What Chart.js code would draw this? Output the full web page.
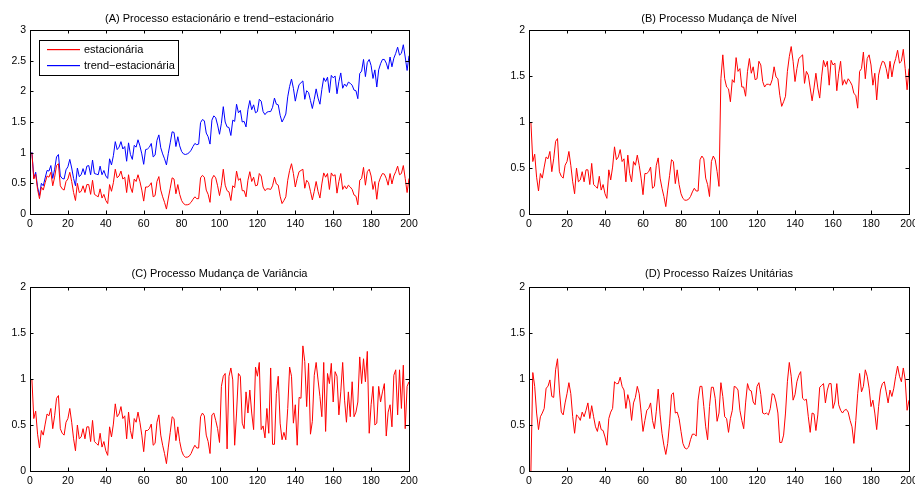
<!DOCTYPE html>
<html>
<head>
<meta charset="utf-8">
<script src="https://cdn.jsdelivr.net/npm/chart.js@4/dist/chart.umd.min.js"></script>
<style>
  body { margin: 0; background: #fff; }
  #fig { position: relative; width: 915px; height: 484px; overflow: hidden; }
  #fig canvas { position: absolute; }
</style>
</head>
<body>
<div id="fig">
  <canvas id="graf-a" width="458" height="242" style="left:0;top:0"></canvas>
  <canvas id="graf-b" width="457" height="242" style="left:458px;top:0"></canvas>
  <canvas id="graf-c" width="458" height="242" style="left:0;top:242px"></canvas>
  <canvas id="graf-d" width="457" height="242" style="left:458px;top:242px"></canvas>
</div>
<script>
// eixo do tempo: t = 1..200
const tempo = Array.from({ length: 200 }, (_, i) => i + 1);
const ticksX = [0, 20, 40, 60, 80, 100, 120, 140, 160, 180, 200];

// (A) serie estacionaria
const estacionaria = [
  1.00, 0.57, 0.65, 0.40, 0.25, 0.44, 0.39, 0.51, 0.62, 0.60,
  0.68, 0.46, 0.60, 0.79, 0.82, 0.46, 0.41, 0.39, 0.53, 0.57,
  0.68, 0.53, 0.35, 0.22, 0.50, 0.35, 0.37, 0.46, 0.35, 0.48,
  0.48, 0.32, 0.55, 0.32, 0.30, 0.28, 0.41, 0.26, 0.32, 0.22,
  0.17, 0.48, 0.37, 0.51, 0.73, 0.59, 0.62, 0.70, 0.57, 0.60,
  0.35, 0.64, 0.44, 0.35, 0.57, 0.53, 0.64, 0.53, 0.39, 0.21,
  0.44, 0.44, 0.46, 0.51, 0.28, 0.30, 0.53, 0.61, 0.39, 0.28,
  0.19, 0.08, 0.26, 0.42, 0.59, 0.57, 0.33, 0.48, 0.32, 0.22,
  0.17, 0.15, 0.15, 0.16, 0.19, 0.24, 0.28, 0.25, 0.25, 0.59,
  0.63, 0.60, 0.39, 0.32, 0.19, 0.57, 0.63, 0.59, 0.46, 0.30,
  0.47, 0.73, 0.47, 0.38, 0.36, 0.22, 0.46, 0.43, 0.70, 0.55,
  0.58, 0.38, 0.38, 0.28, 0.55, 0.69, 0.53, 0.60, 0.46, 0.47,
  0.66, 0.62, 0.44, 0.38, 0.41, 0.41, 0.40, 0.46, 0.60, 0.49,
  0.47, 0.29, 0.17, 0.22, 0.28, 0.55, 0.71, 0.82, 0.66, 0.44,
  0.58, 0.69, 0.71, 0.73, 0.42, 0.55, 0.51, 0.37, 0.23, 0.37,
  0.53, 0.37, 0.26, 0.49, 0.67, 0.60, 0.66, 0.40, 0.67, 0.62,
  0.64, 0.34, 0.53, 0.66, 0.40, 0.46, 0.41, 0.47, 0.44, 0.40,
  0.31, 0.29, 0.15, 0.55, 0.58, 0.76, 0.47, 0.69, 0.73, 0.62,
  0.40, 0.53, 0.24, 0.51, 0.60, 0.66, 0.65, 0.58, 0.47, 0.66,
  0.49, 0.62, 0.69, 0.78, 0.64, 0.66, 0.79, 0.58, 0.35, 0.58
];

// (A) serie trend-estacionaria
const trendEstacionaria = [
  1.01, 0.59, 0.68, 0.44, 0.30, 0.50, 0.46, 0.59, 0.71, 0.70,
  0.79, 0.58, 0.73, 0.93, 0.97, 0.62, 0.58, 0.57, 0.72, 0.77,
  0.89, 0.75, 0.58, 0.46, 0.75, 0.61, 0.64, 0.74, 0.64, 0.78,
  0.79, 0.64, 0.88, 0.66, 0.65, 0.64, 0.78, 0.64, 0.71, 0.62,
  0.58, 0.90, 0.80, 0.95, 1.18, 1.05, 1.09, 1.18, 1.06, 1.10,
  0.86, 1.16, 0.97, 0.89, 1.12, 1.09, 1.21, 1.11, 0.98, 0.81,
  1.05, 1.06, 1.09, 1.15, 0.93, 0.96, 1.20, 1.29, 1.08, 0.98,
  0.90, 0.80, 0.99, 1.16, 1.34, 1.33, 1.10, 1.26, 1.11, 1.02,
  0.98, 0.97, 0.98, 1.00, 1.04, 1.10, 1.15, 1.13, 1.14, 1.49,
  1.54, 1.52, 1.32, 1.26, 1.14, 1.53, 1.60, 1.57, 1.45, 1.30,
  1.48, 1.75, 1.50, 1.42, 1.41, 1.28, 1.53, 1.51, 1.79, 1.65,
  1.69, 1.50, 1.51, 1.42, 1.70, 1.85, 1.70, 1.78, 1.65, 1.67,
  1.87, 1.84, 1.67, 1.62, 1.66, 1.67, 1.67, 1.74, 1.89, 1.79,
  1.78, 1.61, 1.50, 1.56, 1.63, 1.91, 2.08, 2.20, 2.05, 1.84,
  1.99, 2.11, 2.14, 2.17, 1.87, 2.01, 1.98, 1.85, 1.72, 1.87,
  2.04, 1.89, 1.79, 2.03, 2.22, 2.16, 2.23, 1.98, 2.26, 2.22,
  2.25, 1.96, 2.16, 2.30, 2.05, 2.12, 2.08, 2.15, 2.13, 2.10,
  2.02, 2.01, 1.88, 2.29, 2.33, 2.52, 2.24, 2.47, 2.52, 2.42,
  2.21, 2.35, 2.07, 2.35, 2.45, 2.52, 2.52, 2.46, 2.36, 2.56,
  2.40, 2.54, 2.62, 2.72, 2.59, 2.62, 2.76, 2.56, 2.34, 2.58
];

// (B) segunda metade, t = 101..200, depois da mudanca de nivel
const nivelDepois = [
  1.47, 1.73, 1.47, 1.38, 1.36, 1.22, 1.46, 1.43, 1.70, 1.55,
  1.58, 1.38, 1.38, 1.28, 1.55, 1.69, 1.53, 1.60, 1.46, 1.47,
  1.66, 1.62, 1.44, 1.38, 1.41, 1.41, 1.40, 1.46, 1.60, 1.49,
  1.47, 1.29, 1.17, 1.22, 1.28, 1.55, 1.71, 1.82, 1.66, 1.44,
  1.58, 1.69, 1.71, 1.73, 1.42, 1.55, 1.51, 1.37, 1.23, 1.37,
  1.53, 1.37, 1.26, 1.49, 1.67, 1.60, 1.66, 1.40, 1.67, 1.62,
  1.64, 1.34, 1.53, 1.66, 1.40, 1.46, 1.41, 1.47, 1.44, 1.40,
  1.31, 1.29, 1.15, 1.55, 1.58, 1.76, 1.47, 1.69, 1.73, 1.62,
  1.40, 1.53, 1.24, 1.51, 1.60, 1.66, 1.65, 1.58, 1.47, 1.66,
  1.49, 1.62, 1.69, 1.78, 1.64, 1.66, 1.79, 1.58, 1.35, 1.58
];

// (C) t = 96..200, depois da mudanca de variancia
const varianciaDepois = [
  0.61, 0.63, 0.55, 0.46, 0.31, 0.92, 1.03, 1.06, 0.24, 1.03,
  1.12, 0.99, 0.28, 0.63, 1.06, 1.03, 0.52, 0.46, 0.86, 0.63,
  0.88, 0.63, 0.45, 1.13, 1.03, 1.18, 0.45, 0.49, 0.36, 0.68,
  0.41, 1.12, 0.29, 0.29, 0.84, 1.03, 0.52, 0.34, 0.42, 0.34,
  0.68, 1.13, 1.03, 0.52, 0.72, 0.28, 0.80, 0.79, 1.36, 1.19,
  0.70, 1.17, 0.40, 0.54, 1.04, 1.18, 0.99, 0.81, 0.59, 1.18,
  0.43, 1.06, 0.95, 1.17, 0.75, 1.08, 1.03, 0.61, 0.86, 1.18,
  0.77, 0.53, 0.86, 0.59, 0.97, 0.59, 0.64, 0.75, 1.24, 0.95,
  1.22, 0.97, 1.30, 0.41, 0.72, 0.92, 0.50, 0.52, 0.92, 0.75,
  0.86, 0.95, 0.38, 0.64, 0.72, 0.48, 1.04, 1.10, 0.61, 1.10,
  0.68, 1.15, 0.46, 0.92, 0.97
];

// (D) raizes unitarias
const raizesUnitarias = [
  0.00, 1.07, 0.92, 0.63, 0.45, 0.59, 0.63, 0.68, 0.90, 0.92,
  0.99, 0.81, 0.80, 1.10, 1.22, 0.88, 0.64, 0.61, 0.74, 0.84,
  0.96, 0.84, 0.59, 0.41, 0.61, 0.59, 0.55, 0.64, 0.59, 0.66,
  0.74, 0.57, 0.71, 0.59, 0.48, 0.43, 0.54, 0.45, 0.44, 0.37,
  0.28, 0.57, 0.64, 0.68, 0.97, 0.95, 0.95, 1.02, 0.92, 0.88,
  0.68, 0.83, 0.75, 0.55, 0.74, 0.80, 0.92, 0.84, 0.64, 0.43,
  0.55, 0.66, 0.68, 0.74, 0.55, 0.46, 0.65, 0.89, 0.61, 0.41,
  0.28, 0.18, 0.30, 0.52, 0.83, 0.85, 0.63, 0.64, 0.57, 0.43,
  0.30, 0.25, 0.24, 0.26, 0.34, 0.40, 0.40, 0.38, 0.77, 0.92,
  0.92, 0.70, 0.48, 0.34, 0.70, 0.91, 0.91, 0.79, 0.54, 0.63,
  0.96, 0.81, 0.59, 0.57, 0.42, 0.57, 0.66, 0.92, 0.91, 0.88,
  0.66, 0.55, 0.46, 0.74, 0.95, 0.88, 0.87, 0.75, 0.72, 0.92,
  0.96, 0.83, 0.63, 0.62, 0.63, 0.61, 0.68, 0.84, 0.83, 0.75,
  0.63, 0.31, 0.31, 0.39, 0.63, 0.97, 1.18, 1.03, 0.77, 0.83,
  0.97, 1.04, 1.08, 0.79, 0.77, 0.78, 0.59, 0.42, 0.63, 0.62,
  0.44, 0.61, 0.91, 0.93, 0.95, 0.74, 0.88, 0.95, 0.95, 0.68,
  0.75, 0.95, 0.72, 0.66, 0.63, 0.66, 0.67, 0.64, 0.55, 0.48,
  0.30, 0.55, 0.84, 1.06, 0.86, 0.92, 1.10, 1.03, 0.90, 0.70,
  0.77, 0.63, 0.45, 0.70, 0.88, 0.95, 0.97, 0.86, 0.74, 0.88,
  0.81, 0.90, 1.03, 1.14, 1.03, 0.97, 1.12, 0.99, 0.66, 0.77
];

// (B) e (C) partilham o inicio da serie estacionaria
const mudancaNivel = estacionaria.slice(0, 100).concat(nivelDepois);
const mudancaVariancia = estacionaria.slice(0, 95).concat(varianciaDepois);

const fonte = '"Liberation Sans", Arial, Helvetica, sans-serif';
const VERMELHO = 'rgb(255, 0, 0)';
const AZUL = 'rgb(0, 0, 255)';

function pontos(serie) {
    return tempo.map((t, i) => ({ x: t, y: serie[i] }));
}

function linha(label, serie, cor) {
    return {
        label: label,
        data: pontos(serie),
        borderColor: cor,
        borderWidth: 1,
        pointRadius: 0,
        tension: 0,
        fill: false
    };
}

// caixa, marcas para dentro, titulo e legenda (estilo matlab)
function pluginMoldura(titulo, dyTitulo, legenda) {
    return {
        id: 'moldura',
        afterDraw(chart) {
            const ctx = chart.ctx;
            const a = chart.chartArea;
            const sx = chart.scales.x, sy = chart.scales.y;
            const tl = 3.5;
            ctx.save();
            ctx.strokeStyle = '#000';
            ctx.lineWidth = 1;
            ctx.beginPath();
            sx.ticks.forEach(tk => {
                const px = Math.round(sx.getPixelForValue(tk.value)) + 0.5;
                ctx.moveTo(px, a.bottom); ctx.lineTo(px, a.bottom - tl);
                ctx.moveTo(px, a.top); ctx.lineTo(px, a.top + tl);
            });
            sy.ticks.forEach(tk => {
                const py = Math.round(sy.getPixelForValue(tk.value)) + 0.5;
                ctx.moveTo(a.left, py); ctx.lineTo(a.left + tl, py);
                ctx.moveTo(a.right, py); ctx.lineTo(a.right - tl, py);
            });
            ctx.stroke();
            ctx.strokeRect(Math.round(a.left) + 0.5, Math.round(a.top) + 0.5,
                Math.round(a.right - a.left), Math.round(a.bottom - a.top));

            ctx.fillStyle = '#000';
            ctx.font = '11px ' + fonte;
            ctx.textAlign = 'center';
            ctx.textBaseline = 'alphabetic';
            ctx.fillText(titulo, (a.left + a.right) / 2, a.top - dyTitulo);

            if (legenda) {
                const bx = a.left + 9, by = a.top + 10, bw = 139, bh = 35;
                ctx.fillStyle = '#fff';
                ctx.fillRect(bx, by, bw, bh);
                ctx.strokeStyle = '#000';
                ctx.strokeRect(bx + 0.5, by + 0.5, bw, bh);
                ctx.textAlign = 'left';
                ctx.textBaseline = 'middle';
                legenda.forEach((item, i) => {
                    const y = by + 9 + i * 16;
                    ctx.fillStyle = item.cor;
                    ctx.fillRect(bx + 8, y, 33, 1.2);
                    ctx.fillStyle = '#000';
                    ctx.fillText(item.texto, bx + 45, y + 1);
                });
            }
            ctx.restore();
        }
    };
}

function criarGrafico(id, datasets, yMax, area, titulo, legenda) {
    const canvas = document.getElementById(id);
    const W = canvas.width, H = canvas.height;
    const tickFont = { family: fonte, size: 10.5 };
    return new Chart(canvas, {
        type: 'line',
        data: { datasets: datasets },
        options: {
            responsive: false,
            animation: false,
            events: [],
            layout: { padding: { left: 0, top: area.top, right: W - area.right, bottom: 0 } },
            plugins: { legend: { display: false }, tooltip: { enabled: false }, title: { display: false } },
            scales: {
                x: {
                    type: 'linear', min: 0, max: 200,
                    afterBuildTicks: s => { s.ticks = ticksX.map(v => ({ value: v })); },
                    grid: { display: false, drawTicks: false },
                    border: { display: false },
                    ticks: { color: '#000', font: tickFont, padding: 4, maxRotation: 0, autoSkip: false,
                             callback: v => String(v) },
                    afterFit: s => { s.height = H - area.bottom; s.paddingLeft = 0; s.paddingRight = 0; }
                },
                y: {
                    min: 0, max: yMax,
                    grid: { display: false, drawTicks: false },
                    border: { display: false },
                    ticks: { color: '#000', font: tickFont, padding: 4, stepSize: 0.5,
                             callback: v => String(Math.round(v * 10) / 10) },
                    afterFit: s => { s.width = area.left; s.paddingTop = 0; s.paddingBottom = 0; }
                }
            }
        },
        plugins: [pluginMoldura(titulo, area.dyTitulo, legenda)]
    });
}

const areaEsq = { left: 30, right: 409 };
const areaDir = { left: 71, right: 451 };

const rotuloEst = 'estacionária';
const rotuloTrend = 'trend\u2212estacionária';

criarGrafico('graf-a', [
    linha(rotuloEst, estacionaria, VERMELHO),
    linha(rotuloTrend, trendEstacionaria, AZUL)
], 3, { ...areaEsq, top: 30, bottom: 214, dyTitulo: 8.5 }, '(A) Processo estacionário e trend\u2212estacionário',
    [{ texto: rotuloEst, cor: VERMELHO }, { texto: rotuloTrend, cor: AZUL }]);

criarGrafico('graf-b', [linha('Mudança de Nível', mudancaNivel, VERMELHO)],
    2, { ...areaDir, top: 30, bottom: 214, dyTitulo: 8.5 }, '(B) Processo Mudança de Nível', null);

criarGrafico('graf-c', [linha('Mudança de Variância', mudancaVariancia, VERMELHO)],
    2, { ...areaEsq, top: 45, bottom: 229, dyTitulo: 10.5 }, '(C) Processo Mudança de Variância', null);

criarGrafico('graf-d', [linha('Raízes Unitárias', raizesUnitarias, VERMELHO)],
    2, { ...areaDir, top: 45, bottom: 229, dyTitulo: 10.5 }, '(D) Processo Raízes Unitárias', null);
</script>
</body>
</html>
